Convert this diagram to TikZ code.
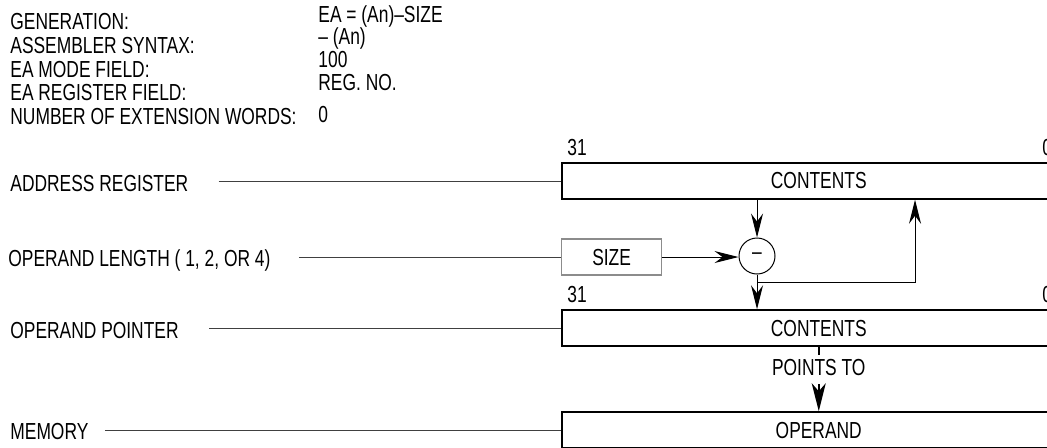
\documentclass[tikz,border=0pt]{standalone}
\usepackage{fontspec}
\setmainfont{Liberation Sans}[FakeStretch=0.75]
\usetikzlibrary{arrows.meta,positioning}
\definecolor{LeadClr}{rgb}{0.25,0.25,0.25}
\definecolor{SizeClr}{rgb}{0.55,0.55,0.55}

\tikzset{
  hdr/.style={anchor=base west,inner sep=0pt},
  side/.style={anchor=base west,inner sep=0pt},
  bitno/.style={anchor=base west,inner sep=0pt},
  regbox/.style={draw,line width=0.75pt,anchor=west,minimum width=257pt,minimum height=18pt,inner sep=0pt},
  sizebox/.style={draw=SizeClr,line width=0.6pt,anchor=west,minimum width=50pt,minimum height=18pt,inner sep=0pt},
  subtr/.style={circle,draw,line width=0.5pt,minimum size=18pt,inner sep=0pt},
  lead/.style={draw=LeadClr,line width=0.5pt,shorten <=#1},
  lead/.default=15pt,
  flow/.style={line width=0.5pt,-{Stealth[length=12pt,width=6pt,inset=4pt]}},
  bigflow/.style={line width=1.1pt,-{Stealth[length=14pt,width=7pt,inset=4pt]}},
}

\begin{document}
\begin{tikzpicture}[x=0.5pt,y=-0.5pt,font=\fontsize{11.6}{14}\selectfont]
\useasboundingbox (0,0) rectangle (1047,447);
\clip (0,0) rectangle (1047,447);

\node[hdr] (gen)    at (10,29)   {GENERATION:};
\node[hdr] (asm)    at (10,53)   {ASSEMBLER SYNTAX:};
\node[hdr] (mode)   at (10,77)   {EA MODE FIELD:};
\node[hdr] (regfld) at (10,100)  {EA REGISTER FIELD:};
\node[hdr] (extw)   at (10,124)  {NUMBER OF EXTENSION WORDS:};

\node[hdr] (genv)   at (318,22)  {EA = (An)--SIZE};
\node[hdr] (asmv)   at (318,44)  {-- (An)};
\node[hdr] (modev)  at (318,67)  {100};
\node[hdr] (regv)   at (318,90)  {REG. NO.};
\node[hdr] (extwv)  at (318,122) {0};

\node[regbox] (areg) at (561,181) {CONTENTS};
\node[regbox] (preg) at (561,328) {CONTENTS};
\node[regbox] (mem)  at (561,430) {OPERAND};

\node[bitno] (amsb) at (567,155)  {31};
\node[bitno] (alsb) at (1042,155) {0};
\node[bitno] (pmsb) at (567,302)  {31};
\node[bitno] (plsb) at (1042,302) {0};

\node[sizebox] (size) at (561,257) {SIZE};
\node[subtr] (sub) at (757,256) {--};

\node[side] (arlbl)  at (10,191)  {ADDRESS REGISTER};
\node[side] (ollbl)  at (8,266)   {OPERAND LENGTH ( 1, 2, OR 4)};
\node[side] (oplbl)  at (10,338.5) {OPERAND POINTER};
\node[side] (memlbl) at (10,439)  {MEMORY};

\draw[lead] (areg.west -| arlbl.east) -- (areg.west);
\draw[lead=14pt] (size.west -| ollbl.east) -- (size.west);
\draw[lead] (preg.west -| oplbl.east) -- (preg.west);
\draw[lead=8pt] (mem.west -| memlbl.east) -- (mem.west);

\draw[flow] (areg.south -| sub) -- (sub);
\draw[flow] (size) -- (size -| sub.west);
\draw[flow] (sub) -- (preg.north -| sub);

\coordinate (tap) at (757,282);
\coordinate (ret) at (915,282);
\draw[flow] (tap) -- (ret) -- (ret |- areg.south);

\node[below=4pt of preg,inner xsep=0pt,inner ysep=2pt,text height=8.3pt,text depth=2pt] (pts) {POINTS TO};
\draw[line width=1.1pt] (preg.south) -- (pts.north);
\draw[bigflow] (pts.south) -- (mem.north);

\end{tikzpicture}
\end{document}
